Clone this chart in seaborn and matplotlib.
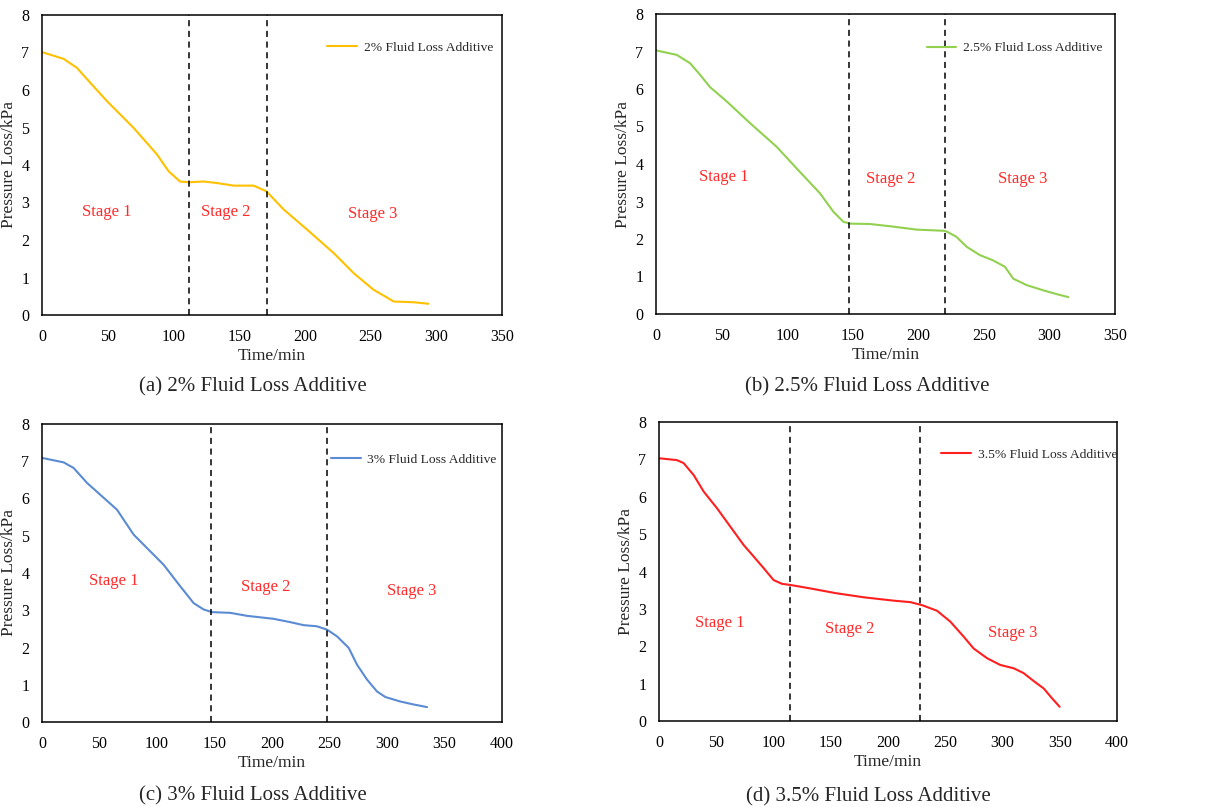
import numpy as np
import matplotlib
matplotlib.use('Agg')
import matplotlib.pyplot as plt
import seaborn as sns
import pandas as pd

# ---- data ----
time_a = [0, 16.5, 26.6, 36.8, 49.5, 69.7, 87.5, 96.4, 105, 111.6, 123, 133, 145.8, 161, 170.7,
          184, 201.6, 222, 237, 252, 267.6, 282.8, 294]
loss_a = [7.01, 6.83, 6.59, 6.19, 5.70, 4.99, 4.28, 3.83, 3.56, 3.54, 3.56, 3.52, 3.45, 3.45, 3.30,
          2.81, 2.28, 1.65, 1.12, 0.68, 0.36, 0.34, 0.30]

time_b = [0, 15.8, 25.9, 33.6, 41.2, 53.9, 71.7, 92, 107.3, 125, 135.2, 142.8, 148, 163, 181, 198.8,
          219, 221.6, 229, 237, 247, 257, 266, 272.5, 282.7, 295.4, 305.5, 314.4]
loss_b = [7.03, 6.91, 6.69, 6.38, 6.05, 5.67, 5.09, 4.46, 3.88, 3.22, 2.73, 2.46, 2.41, 2.40, 2.33, 2.25,
          2.22, 2.20, 2.06, 1.79, 1.57, 1.43, 1.26, 0.94, 0.77, 0.63, 0.53, 0.45]

time_c = [0, 18.8, 27.5, 39.1, 50.7, 65.2, 79.7, 91.3, 105.8, 120.3, 131.9, 140.6, 147.8, 163.8, 178.3,
          201.4, 216, 227.5, 239, 247.8, 256.5, 266.7, 273.9, 282.6, 291.3, 298.6, 311.6, 323.2, 334.8]
loss_c = [7.09, 6.97, 6.82, 6.42, 6.10, 5.70, 5.03, 4.67, 4.22, 3.64, 3.19, 3.02, 2.95, 2.93, 2.85,
          2.77, 2.68, 2.60, 2.57, 2.48, 2.30, 1.99, 1.54, 1.14, 0.82, 0.67, 0.55, 0.47, 0.40]

time_d = [0, 15.7, 21.5, 30.3, 39, 50.7, 62.3, 73.9, 82.7, 91.4, 100.1, 107.4, 114.7, 131.6, 154.5,
          178.7, 204.9, 219.5, 229.7, 242.8, 254.4, 266, 274.8, 286.5, 298, 309.8, 318.5, 327.2, 336,
          343.2, 349.9]
loss_d = [7.03, 6.98, 6.90, 6.58, 6.14, 5.69, 5.20, 4.71, 4.40, 4.09, 3.77, 3.67, 3.64, 3.55, 3.42,
          3.31, 3.22, 3.18, 3.10, 2.95, 2.66, 2.26, 1.94, 1.68, 1.50, 1.41, 1.28, 1.07, 0.87,
          0.61, 0.38]

stage_bounds_a = [112, 171]
stage_bounds_b = [147, 220]
stage_bounds_c = [147, 248]
stage_bounds_d = [114, 228]

stage_pos_a = [(49.5, 2.76), (140, 2.76), (251.6, 2.69)]
stage_pos_b = [(51.3, 3.66), (179.2, 3.60), (279.4, 3.60)]
stage_pos_c = [(62.3, 3.78), (194.2, 3.62), (321.7, 3.53)]
stage_pos_d = [(53, 2.61), (166.2, 2.45), (308.9, 2.36)]

labels = ['2% Fluid Loss Additive', '2.5% Fluid Loss Additive',
          '3% Fluid Loss Additive', '3.5% Fluid Loss Additive']
captions = ['(a) 2% Fluid Loss Additive', '(b) 2.5% Fluid Loss Additive',
            '(c) 3% Fluid Loss Additive', '(d) 3.5% Fluid Loss Additive']
colors = ['#FFC000', '#92D050', '#5B8BD3', '#FF1F1F']
xmax = [350, 350, 400, 400]

sns.set_theme(style='white')
plt.rcParams['font.family'] = ['Liberation Serif', 'DejaVu Serif']

fig = plt.figure(figsize=(12.26, 8.07), dpi=100)
W, H = 1226, 807
boxes = [(42, 15, 502, 315), (656, 14, 1115, 314), (42, 424, 502, 722), (659, 422, 1117, 721)]
cap_xy = [(253, 387), (867, 387), (253, 796), (868, 797)]
leg_anchor = [(0.992, 0.93), (0.985, 0.925), (1.0, 0.92), (1.012, 0.93)]

series = [(time_a, loss_a, stage_bounds_a, stage_pos_a),
          (time_b, loss_b, stage_bounds_b, stage_pos_b),
          (time_c, loss_c, stage_bounds_c, stage_pos_c),
          (time_d, loss_d, stage_bounds_d, stage_pos_d)]

for i, (t, p, bounds, spos) in enumerate(series):
    l, tp, r, b = boxes[i]
    ax = fig.add_axes([l / W, 1 - b / H, (r - l) / W, (b - tp) / H])
    df = pd.DataFrame({'Time/min': t, 'Pressure Loss/kPa': p})
    sns.lineplot(data=df, x='Time/min', y='Pressure Loss/kPa', ax=ax, color=colors[i],
                 lw=1.5, label=labels[i])
    for xb in bounds:
        ax.axvline(xb, color='black', ls=(0, (4, 3)), lw=1.1)
    for k, (sx, sy) in enumerate(spos):
        ax.text(sx, sy, f'Stage {k + 1}', color='#FF2A2A', fontsize=12, ha='center', va='center')
    ax.set_xlim(0, xmax[i]); ax.set_ylim(0, 8)
    ax.set_xticks(range(0, xmax[i] + 1, 50)); ax.set_yticks(range(0, 9))
    ax.tick_params(axis='x', direction='in', length=4, width=1, labelsize=11.5, pad=10, colors='black')
    ax.tick_params(axis='y', direction='in', length=0, labelsize=11.5, pad=9, colors='black')
    for s in ax.spines.values():
        s.set_color('black'); s.set_linewidth(1.1)
    ax.set_xlabel('Time/min', fontsize=12.5, labelpad=2)
    ax.set_ylabel('Pressure Loss/kPa', fontsize=12.5, labelpad=3)
    ax.legend(loc='upper right', bbox_to_anchor=leg_anchor[i], frameon=False, fontsize=9.7,
              handlelength=2.2, handletextpad=0.5, borderaxespad=0.0)
    fig.text(cap_xy[i][0] / W, 1 - cap_xy[i][1] / H, captions[i], fontsize=15,
             ha='center', va='center')

fig.savefig('out.png', dpi=100, facecolor='white')
